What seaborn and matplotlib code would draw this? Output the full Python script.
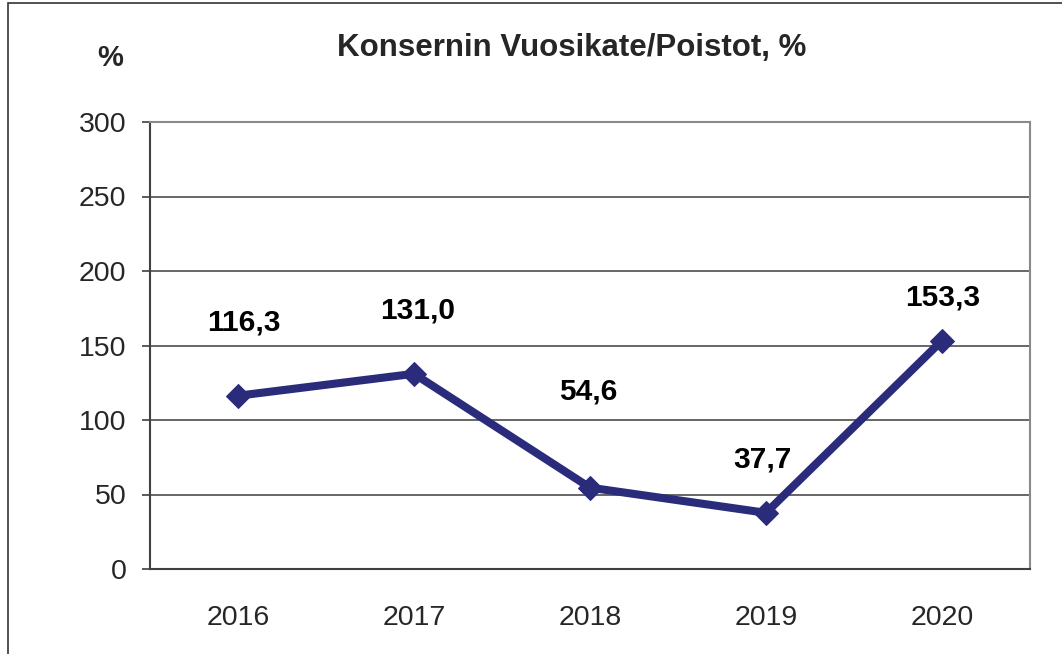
import matplotlib
matplotlib.use("Agg")
import matplotlib.pyplot as plt
import seaborn as sns
import pandas as pd
from matplotlib.patches import Rectangle
from matplotlib.ticker import FixedLocator

# Datos del gráfico
years = ["2016", "2017", "2018", "2019", "2020"]
values = [116.3, 131.0, 54.6, 37.7, 153.3]
value_labels = ["116,3", "131,0", "54,6", "37,7", "153,3"]
y_ticks = [0, 50, 100, 150, 200, 250, 300]

# desplazamiento de las etiquetas (px sobre el punto)
label_dy = [73, 63, 96, 53, 43]
label_dx = [6, 4, -2, -4, 1]

df = pd.DataFrame({"year": years, "value": values})

sns.set_style("white")
plt.rcParams["font.family"] = ["Liberation Sans", "DejaVu Sans"]

fig = plt.figure(figsize=(10.62, 6.54), dpi=100)
ax = fig.add_axes([150 / 1062, 1 - 569 / 654, 880 / 1062, 447 / 654])

line_color = "#2b2b7c"
sns.lineplot(data=df, x="year", y="value", ax=ax, color=line_color,
             linewidth=5.8, marker="D", markersize=12.5, markeredgecolor=line_color,
             sort=False)

ax.set_xlim(-0.5, 4.5)
ax.set_ylim(0, 300)
ax.set_yticks(y_ticks)
ax.set_yticklabels([str(t) for t in y_ticks], fontsize=20.5)
ax.set_xticks(range(len(years)))
ax.set_xticklabels(years, fontsize=20.5)
ax.xaxis.set_minor_locator(FixedLocator([i - 0.5 for i in range(len(years) + 1)]))
ax.tick_params(axis="x", which="major", length=0, pad=26)
ax.tick_params(axis="x", which="minor", length=6, width=1.2, color="#404040", direction="out")
ax.tick_params(axis="y", length=6, width=1.2, color="#404040", direction="out", pad=11, left=True)
ax.set_xlabel("")
ax.set_ylabel("")

ax.yaxis.grid(True, color="#5a5a5a", linewidth=1.3)
ax.set_axisbelow(True)
for side in ["left", "bottom"]:
    ax.spines[side].set_color("#404040")
    ax.spines[side].set_linewidth(1.5)
for side in ["top", "right"]:
    ax.spines[side].set_color("#8a8a8a")
    ax.spines[side].set_linewidth(1.5)

for i, (v, lab) in enumerate(zip(values, value_labels)):
    ax.annotate(lab, xy=(i, v), xytext=(label_dx[i] * 0.72, label_dy[i] * 0.72),
                textcoords="offset points", ha="center", va="center",
                fontsize=21.5, fontweight="bold", color="black")

fig.text(572 / 1062, 1 - 48 / 654, "Konsernin Vuosikate/Poistot, %",
         ha="center", va="center", fontsize=22.5, fontweight="bold")
fig.text(110 / 1062, 1 - 58 / 654, "%", ha="center", va="center",
         fontsize=21, fontweight="bold")

# marco exterior (cortado en la imagen original)
fig.patches.append(Rectangle((8 / 1062, -0.1), 1.5, 1.1 - 3 / 654,
                             transform=fig.transFigure, fill=False,
                             edgecolor="#333333", linewidth=1.2))

fig.savefig("out.png", dpi=100)
